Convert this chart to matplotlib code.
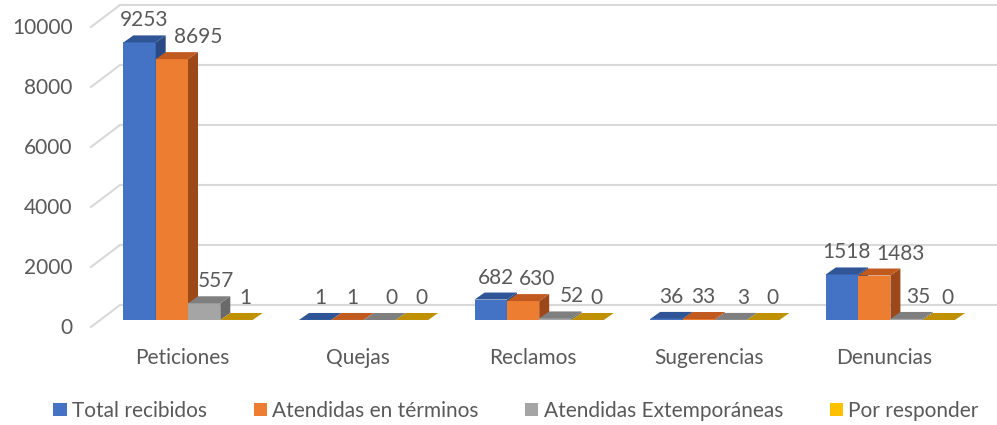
import matplotlib
matplotlib.use("Agg")
import matplotlib.pyplot as plt
from matplotlib.patches import Polygon, Patch
from matplotlib.transforms import ScaledTranslation, blended_transform_factory

categories = ["Peticiones", "Quejas", "Reclamos", "Sugerencias", "Denuncias"]
series_names = ["Total recibidos", "Atendidas en términos",
                "Atendidas Extemporáneas", "Por responder"]
total_recibidos = [9253, 1, 682, 36, 1518]
atendidas_terminos = [8695, 1, 630, 33, 1483]
atendidas_extemporaneas = [557, 0, 52, 3, 35]
por_responder = [1, 0, 0, 0, 0]
yticks = [0, 2000, 4000, 6000, 8000, 10000]

series = [total_recibidos, atendidas_terminos, atendidas_extemporaneas, por_responder]
front_colors = ["#4472C4", "#ED7D31", "#A5A5A5", "#FFC000"]
top_colors = ["#2F5597", "#C15A1E", "#7F7F7F", "#BF9000"]
side_colors = ["#2A4A85", "#9C4819", "#6A6A6A", "#8C6A00"]
label_shift_px = [5, 5, 12, 9]
txt = "#595959"
grid_c = "#D9D9D9"

plt.rcParams["font.family"] = ["Lato", "DejaVu Sans"]
FS = 15

W, H = 997, 425
fig = plt.figure(figsize=(W / 100, H / 100), dpi=100)
# axes = back-wall width, bar-plane height (pixel-calibrated)
ax_l, ax_r, ax_b, ax_t = 120, 997, 320, 20
ax = fig.add_axes([ax_l / W, (H - ax_b) / H, (ax_r - ax_l) / W, (ax_b - ax_t) / H])
x0_px, step_px = 182, 175.6
ax.set_xlim((ax_l - x0_px) / step_px, (ax_r - x0_px) / step_px)
ax.set_ylim(0, 10000)
for s in ax.spines.values():
    s.set_visible(False)

def px(dx, dy):
    return ScaledTranslation(dx / 100, dy / 100, fig.dpi_scale_trans)

# ticks
ax.set_yticks(yticks)
ax.set_yticklabels([str(v) for v in yticks])
ax.set_xticks(range(len(categories)))
ax.set_xticklabels(categories)
ax.tick_params(axis="both", length=0, labelsize=FS, labelcolor=txt)
ax.tick_params(axis="y", pad=34)
ax.tick_params(axis="x", pad=20)
for lab in ax.get_yticklabels():
    lab.set_transform(lab.get_transform() + px(0, -6))

# back wall gridlines and left-wall stubs
bt = blended_transform_factory(ax.transAxes, ax.transData)
for v in yticks:
    ax.plot([0, 1], [v, v], color=grid_c, lw=1.5, transform=bt + px(0, 15),
            clip_on=False, zorder=0.5)
    p_front = (bt + px(-29, -7)).transform((0, v))
    p_back = (bt + px(0, 15)).transform((0, v))
    ax.plot([p_front[0], p_back[0]], [p_front[1], p_back[1]], color=grid_c,
            lw=1.5, transform=None, clip_on=False, zorder=0.5)

# bars
bw = 32.3 / step_px
group_shift = 6 / step_px
dx_d = 10 / step_px
dy_d = 7 * 10000 / (ax_b - ax_t)
annots = []
for s, vals in enumerate(series):
    xs = [i + group_shift + (s - 1.5) * bw for i in range(len(categories))]
    z = 2 + s * 0.1
    ax.bar(xs, vals, width=bw, color=front_colors[s], zorder=z, clip_on=False,
           linewidth=0)
    for i, (xc, v) in enumerate(zip(xs, vals)):
        xa, xb = xc - bw / 2, xc + bw / 2
        top = Polygon([(xa, v), (xb, v), (xb + dx_d, v + dy_d), (xa + dx_d, v + dy_d)],
                      closed=True, facecolor=top_colors[s], edgecolor="none",
                      zorder=z, clip_on=False)
        side = Polygon([(xb, 0), (xb, v), (xb + dx_d, v + dy_d), (xb + dx_d, dy_d)],
                       closed=True, facecolor=side_colors[s], edgecolor="none",
                       zorder=z, clip_on=False)
        ax.add_patch(side)
        ax.add_patch(top)
        a = ax.annotate(str(v), xy=(xc, v), xytext=(label_shift_px[s] * 0.72, 16 * 0.72),
                        textcoords="offset points", ha="center", va="baseline",
                        fontsize=FS, color=txt, zorder=5, annotation_clip=False)
        annots.append((i, s, a))

# legend
handles = [Patch(facecolor=c, edgecolor="none") for c in front_colors]
fig.legend(handles, series_names, loc="center", bbox_to_anchor=(516 / W, (H - 411) / H),
           ncol=4, frameon=False, fontsize=FS, labelcolor=txt,
           handlelength=0.63, handleheight=0.63, handletextpad=0.25,
           columnspacing=2.25, borderaxespad=0, borderpad=0)

# avoid overlapping data labels within a group
fig.canvas.draw()
r = fig.canvas.get_renderer()
gap = 5
for i in range(len(categories)):
    group = sorted([(s, a) for (ii, s, a) in annots if ii == i])
    prev = None
    for s, a in group:
        bb = a.get_window_extent(r)
        if prev is not None and bb.y0 < prev.y1 and bb.y1 > prev.y0 and bb.x0 < prev.x1 + gap:
            shift = prev.x1 + gap - bb.x0
            ox, oy = a.xyann
            a.xyann = (ox + shift * 0.72, oy)
            fig.canvas.draw()
            bb = a.get_window_extent(r)
        prev = bb

fig.savefig("out.png", dpi=100)
